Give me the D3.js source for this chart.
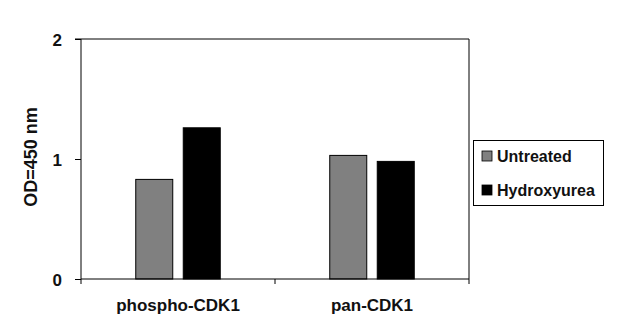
<!DOCTYPE html>
<html>
<head>
<meta charset="utf-8">
<script src="https://cdn.jsdelivr.net/npm/d3@7"></script>
<style>
  html, body { margin: 0; padding: 0; background: #fff; }
  svg { display: block; }
  text { font-family: "Liberation Sans", Arial, sans-serif; font-weight: bold; fill: #111; }
</style>
</head>
<body>
<svg id="chart" width="626" height="333"></svg>
<script>
// Data
const categories = ["phospho-CDK1", "pan-CDK1"];
const seriesNames = ["Untreated", "Hydroxyurea"];
const untreated = [0.83, 1.03];
const hydroxyurea = [1.26, 0.98];
const yTicks = [0, 1, 2];
const seriesColors = ["#808080", "#000000"];

const svg = d3.select("#chart");
const plot = { left: 81, right: 469, top: 39, bottom: 279 };

const x = d3.scaleBand().domain(categories).range([plot.left, plot.right]);
const y = d3.scaleLinear().domain([0, 2]).range([plot.bottom, plot.top]);

// bars within a category: two 37px bars with a 10.5px gap, centred on the band
const barW = 37, barGap = 10.5;
const groupW = 2 * barW + barGap;
const inner = d3.scaleBand().domain(seriesNames)
  .range([-groupW / 2, groupW / 2]).paddingInner(barGap / (barW + barGap));

// plot frame (top and right edges)
svg.append("path")
  .attr("d", `M${plot.left},${plot.top}H${plot.right}V${plot.bottom}`)
  .attr("fill", "none").attr("stroke", "#000").attr("stroke-width", 1);

// bars
const rows = categories.map((c, i) => ({ cat: c, values: [untreated[i], hydroxyurea[i]] }));
rows.forEach(r => {
  r.values.forEach((v, j) => {
    const cx = x(r.cat) + x.bandwidth() / 2;
    svg.append("rect")
      .attr("x", cx + inner(seriesNames[j]))
      .attr("y", y(v))
      .attr("width", inner.bandwidth())
      .attr("height", y(0) - y(v))
      .attr("fill", seriesColors[j])
      .attr("stroke", "#000").attr("stroke-width", 1);
  });
});

// y axis
const yAxis = svg.append("g").attr("transform", `translate(${plot.left},0)`)
  .call(d3.axisLeft(y).tickValues(yTicks).tickFormat(d3.format("d")).tickSize(6).tickPadding(13));
yAxis.selectAll("text").style("font-size", "17px").attr("dy", "0.36em");
yAxis.select(".domain").attr("d", `M-6,${plot.top}H0V${plot.bottom}`);

// x axis with ticks at band edges
const xAxis = svg.append("g").attr("transform", `translate(0,${plot.bottom})`);
xAxis.append("line").attr("x1", plot.left).attr("x2", plot.right)
  .attr("stroke", "#000");
const edges = [plot.left, ...categories.slice(1).map(c => x(c)), plot.right];
xAxis.selectAll(".edge").data(edges).enter().append("line")
  .attr("x1", d => d).attr("x2", d => d).attr("y1", 0).attr("y2", 5)
  .attr("stroke", "#000");
xAxis.selectAll(".lbl").data(categories).enter().append("text")
  .attr("x", d => x(d) + x.bandwidth() / 2)
  .attr("y", 32)
  .attr("text-anchor", "middle")
  .style("font-size", "17px")
  .text(d => d);

// y axis title
svg.append("text")
  .attr("transform", `translate(37,157) rotate(-90)`)
  .attr("text-anchor", "middle")
  .style("font-size", "18px")
  .text("OD=450 nm");

// legend
const lg = svg.append("g");
lg.append("rect").attr("x", 473.5).attr("y", 140.5).attr("width", 130).attr("height", 65)
  .attr("fill", "#fff").attr("stroke", "#000").attr("stroke-width", 1);
seriesNames.forEach((s, i) => {
  const yy = 151 + i * 34;
  lg.append("rect").attr("x", 482).attr("y", yy).attr("width", 10).attr("height", 10)
    .attr("fill", seriesColors[i]).attr("stroke", "#000").attr("stroke-width", 0.8);
  lg.append("text").attr("x", 497).attr("y", yy + 11)
    .style("font-size", "16px").text(s);
});
</script>
</body>
</html>
